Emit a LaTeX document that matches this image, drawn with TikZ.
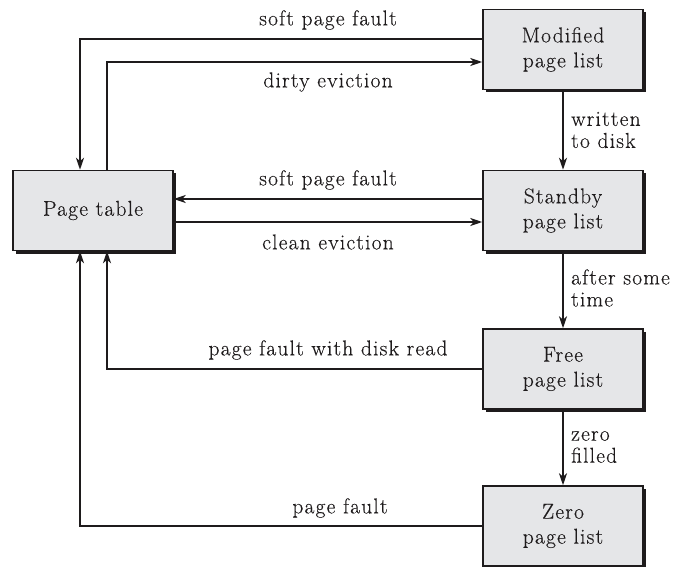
\documentclass[tikz,border=0pt]{standalone}
\usepackage{fontspec}
\setmainfont{Latin Modern Roman}[LetterSpace=5.5, FakeBold=0.25]
\usetikzlibrary{arrows.meta,shadows}
\definecolor{boxfill}{RGB}{229,230,232}
\definecolor{ink}{RGB}{30,27,28}
\tikzset{
  listbox/.style={draw=ink, line width=1.5pt, fill=boxfill, minimum width=160pt, minimum height=80pt,
    inner sep=0pt, align=center, font=\fontsize{21.5}{25}\selectfont, text=ink,
    drop shadow={shadow xshift=3pt, shadow yshift=-3pt, fill=ink, opacity=1}},
  arr/.style={draw=ink, line width=2pt, -{Stealth[length=12pt,width=8pt,inset=3.5pt]}},
  lbl/.style={font=\fontsize{21.5}{22}\selectfont, text=ink, inner sep=0pt},
  vlbl/.style={lbl, align=left, anchor=west}
}
\begin{document}
\begin{tikzpicture}[x=1pt,y=-1pt]
\useasboundingbox (0,0) rectangle (678,567);
\node[listbox] (pt) at (93,210.5) {Page table};
\node[listbox] (mod) at (563,49.5) {Modified\\page list};
\node[listbox] (sb) at (563,210.5) {Standby\\page list};
\node[listbox] (free) at (563,369) {Free\\page list};
\node[listbox] (zero) at (563,526) {Zero\\page list};

\draw[arr] ([yshift=10.5pt]mod.west) -| ([xshift=-13pt]pt.north);
\draw[arr] ([xshift=14pt]pt.north) |- ([yshift=-12.5pt]mod.west);
\draw[arr] ([yshift=11.5pt]sb.west) -- ([yshift=11.5pt]pt.east);
\draw[arr] ([yshift=-11.5pt]pt.east) -- ([yshift=-11.5pt]sb.west);
\draw[arr] (free.west) -| ([xshift=14pt]pt.south);
\draw[arr] (zero.west) -| ([xshift=-13pt]pt.south);
\draw[arr] (mod.south) -- (sb.north);
\draw[arr] (sb.south) -- (free.north);
\draw[arr] (free.south) -- (zero.north);

\node[lbl] (l1) at (328,20) {soft page fault};
\node[lbl] (l2) at (328,82) {dirty eviction};
\node[lbl] (l3) at (328,180) {soft page fault};
\node[lbl] (l4) at (328,242) {clean eviction};
\node[lbl] (l5) at (328,350) {page fault with disk read};
\node[lbl] (l6) at (340,508) {page fault};
\node[vlbl] (v1) at (571,130) {written\\to disk};
\node[vlbl] (v2) at (571,288) {after some\\time};
\node[vlbl] (v3) at (571,447) {zero\\filled};
\end{tikzpicture}
\end{document}
